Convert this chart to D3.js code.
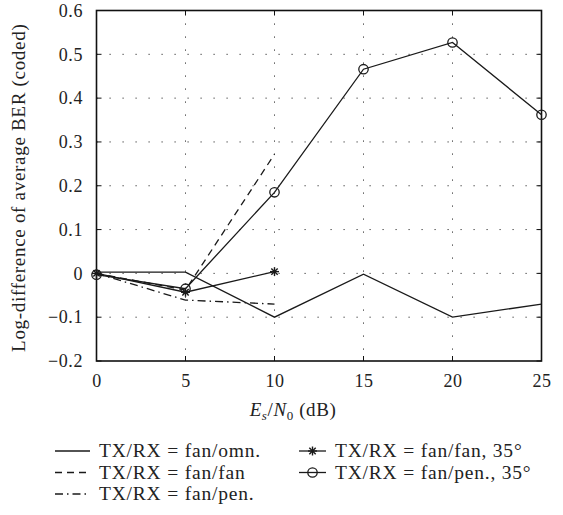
<!DOCTYPE html>
<html><head><meta charset="utf-8">
<script src="https://cdn.jsdelivr.net/npm/d3@7"></script>
<style>body{margin:0;background:#fff}svg{display:block}</style>
</head><body><svg id="c" width="563" height="515" font-family="Liberation Serif"></svg>
<script>
const xValues = [0, 5, 10, 15, 20, 25];
const xTicks = [0, 5, 10, 15, 20, 25];
const yTicks = [-0.2, -0.1, 0, 0.1, 0.2, 0.3, 0.4, 0.5, 0.6];
const yTickLabels = ["\u22120.2", "\u22120.1", "0", "0.1", "0.2", "0.3", "0.4", "0.5", "0.6"];
const fanOmn = [0.003, 0.003, -0.1, -0.002, -0.1, -0.07];
const fanFan = [0, -0.038, 0.272];
const fanPen = [0, -0.061, -0.07];
const fanFan35 = [0, -0.043, 0.004];
const fanPen35 = [-0.003, -0.035, 0.185, 0.466, 0.527, 0.362];
const legendLabels = ["TX/RX = fan/omn.", "TX/RX = fan/fan", "TX/RX = fan/pen.", "TX/RX = fan/fan, 35\u00b0", "TX/RX = fan/pen., 35\u00b0"];

const FONT = "Liberation Serif";
const svg = d3.select("#c");
const L = 96.5, R = 541.5, T = 10.5, B = 361;
const x = d3.scaleLinear().domain([0, 25]).range([L, R]);
const y = d3.scaleLinear().domain([-0.2, 0.6]).range([B, T]);

// grid
const g = svg.append("g");
xTicks.slice(1, -1).forEach(v => g.append("line").attr("x1", x(v)).attr("x2", x(v)).attr("y1", T).attr("y2", B)
  .attr("stroke", "#333").attr("stroke-width", 1).attr("stroke-dasharray", "1.2,11.8"));
yTicks.slice(1, -1).forEach(v => g.append("line").attr("x1", L).attr("x2", R).attr("y1", y(v)).attr("y2", y(v))
  .attr("stroke", "#333").attr("stroke-width", 1).attr("stroke-dasharray", "1.2,11.8"));

// axes
const ax = d3.axisBottom(x).tickValues(xTicks).tickSize(0).tickPadding(13).tickFormat(d3.format("d"));
const axG = svg.append("g").attr("transform", `translate(0,${B})`).call(ax).attr("font-family", FONT);
axG.select(".domain").remove();
axG.selectAll("text").attr("font-size", 18).attr("fill", "#222").attr("font-family", FONT).attr("letter-spacing", 0.6);
const ay = d3.axisLeft(y).tickValues(yTicks).tickSize(0).tickPadding(13.5).tickFormat((d, i) => yTickLabels[i]);
const ayG = svg.append("g").attr("transform", `translate(${L},0)`).call(ay).attr("font-family", FONT);
ayG.select(".domain").remove();
ayG.selectAll("text").attr("font-size", 18).attr("fill", "#222").attr("font-family", FONT).attr("letter-spacing", 0.6);

const tk = svg.append("g").attr("stroke", "#111").attr("stroke-width", 1);
xTicks.forEach(v => { tk.append("line").attr("x1", x(v)).attr("x2", x(v)).attr("y1", B).attr("y2", B - 5);
  tk.append("line").attr("x1", x(v)).attr("x2", x(v)).attr("y1", T).attr("y2", T + 5); });
yTicks.forEach(v => { tk.append("line").attr("x1", L).attr("x2", L + 5).attr("y1", y(v)).attr("y2", y(v));
  tk.append("line").attr("x1", R).attr("x2", R - 5).attr("y1", y(v)).attr("y2", y(v)); });
svg.append("rect").attr("x", L).attr("y", T).attr("width", R - L).attr("height", B - T)
  .attr("fill", "none").attr("stroke", "#111").attr("stroke-width", 1.6);

// series
const line = d3.line().x((d, i) => x(xValues[i])).y(d => y(d));
const series = [
  {data: fanOmn, dash: null},
  {data: fanFan, dash: "7,5"},
  {data: fanPen, dash: "8,4,1.5,4"},
  {data: fanFan35, dash: null, marker: "star"},
  {data: fanPen35, dash: null, marker: "circle"}
];
const pg = svg.append("g");
series.forEach(s => {
  pg.append("path").attr("d", line(s.data)).attr("fill", "none").attr("stroke", "#1a1a1a")
    .attr("stroke-width", 1.3).attr("stroke-dasharray", s.dash);
});
function drawMarker(sel, type, cx, cy) {
  if (type === "circle") {
    sel.append("circle").attr("cx", cx).attr("cy", cy).attr("r", 4.7).attr("fill", "none")
      .attr("stroke", "#1a1a1a").attr("stroke-width", 1.3);
  } else if (type === "star") {
    const r = 4.5;
    [0, 45, 90, 135].forEach(a => {
      const rad = a * Math.PI / 180;
      sel.append("line").attr("x1", cx - r * Math.cos(rad)).attr("y1", cy - r * Math.sin(rad))
        .attr("x2", cx + r * Math.cos(rad)).attr("y2", cy + r * Math.sin(rad))
        .attr("stroke", "#1a1a1a").attr("stroke-width", 1.4);
    });
  }
}
series.forEach(s => { if (s.marker) s.data.forEach((d, i) => drawMarker(pg, s.marker, x(xValues[i]), y(d))); });

// axis labels
svg.append("text").attr("transform", `translate(25,${(T + B) / 2 + 2}) rotate(-90)`).attr("text-anchor", "middle")
  .attr("font-family", FONT).attr("font-size", 19).attr("letter-spacing", 0.7).attr("fill", "#222")
  .text("Log-difference of average BER (coded)");
const xl = svg.append("text").attr("x", 293).attr("y", 416).attr("text-anchor", "middle")
  .attr("font-family", FONT).attr("font-size", 19).attr("letter-spacing", 0.6).attr("fill", "#222");
xl.append("tspan").attr("font-style", "italic").text("E");
xl.append("tspan").attr("font-style", "italic").attr("font-size", 13).attr("dy", 4).text("s");
xl.append("tspan").attr("dy", -4).text("/");
xl.append("tspan").attr("font-style", "italic").text("N");
xl.append("tspan").attr("font-size", 13).attr("dy", 4).text("0");
xl.append("tspan").attr("dy", -4).text(" (dB)");

// legend
const leg = svg.append("g");
const legPos = [
  {lx1: 55, lx2: 90, tx: 99, by: 457},
  {lx1: 55, lx2: 90, tx: 99, by: 478.5},
  {lx1: 55, lx2: 90, tx: 99, by: 500},
  {lx1: 299, lx2: 326, tx: 335, by: 457},
  {lx1: 299, lx2: 326, tx: 335, by: 478.5}
];
series.forEach((s, i) => {
  const p = legPos[i];
  const ly = p.by - 6;
  leg.append("line").attr("x1", p.lx1).attr("x2", p.lx2).attr("y1", ly).attr("y2", ly)
    .attr("stroke", "#1a1a1a").attr("stroke-width", 1.3).attr("stroke-dasharray", s.dash);
  if (s.marker) drawMarker(leg, s.marker, (p.lx1 + p.lx2) / 2, ly);
  leg.append("text").attr("x", p.tx).attr("y", p.by).attr("font-family", FONT).attr("font-size", 19.5)
    .attr("letter-spacing", 0.8).attr("fill", "#222").text(legendLabels[i]);
});
</script></body></html>
